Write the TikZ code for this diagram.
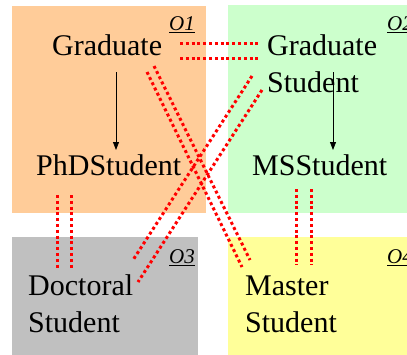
\documentclass[tikz,border=0pt]{standalone}
\usepackage{fontspec}
\setmainfont{Liberation Serif}
\usetikzlibrary{calc,arrows.meta}
\definecolor{peach}{RGB}{255,204,153}
\definecolor{mint}{RGB}{204,255,204}
\definecolor{greybox}{RGB}{192,192,192}
\definecolor{lemon}{RGB}{255,255,153}
\newcommand{\ulab}[1]{\leavevmode\vtop{\hbox{#1}\kern1.6pt\hrule height 1.3pt}}
\tikzset{
  big/.style={inner sep=0pt, anchor=base west, align=left, font=\fontsize{30}{37}\selectfont},
  olabel/.style={inner sep=0pt, anchor=base west, font=\fontsize{21}{24}\selectfont\itshape},
  reddots/.style={draw=red, line width=3pt, dash pattern=on 3pt off 2.8pt},
  arr/.style={draw=black, line width=0.8pt, -{Triangle[length=8pt,width=6pt]}}
}
\begin{document}
\begin{tikzpicture}[x=1pt,y=-1pt]
\useasboundingbox (0,0) rectangle (407,354);
% boxes
\fill[peach] (12,6) rectangle (206,213);
\fill[mint] (228,5) rectangle (410,213);
\fill[greybox] (12,237) rectangle (198,358);
\fill[lemon] (228,237) rectangle (410,358);
% labels
\node[olabel] (o1) at (169,30) {\ulab{O1}};
\node[olabel] (o2) at (387,30) {\ulab{O2}};
\node[olabel] (o3) at (169,263) {\ulab{O3}};
\node[olabel] (o4) at (387,263) {\ulab{O4}};
% texts (base west = baseline of the last line)
\node[big] (g) at (52,55) {Graduate};
\node[big] (gs) at (267,92) {Graduate\\Student};
\node[big] (phd) at (36,175) {PhDStudent};
\node[big] (ms) at (252,175) {MSStudent};
\node[big] (ds) at (28,332) {Doctoral\\Student};
\node[big] (mst) at (245,332) {Master\\Student};
% arrows
\draw[arr] ($(g.base west)+(64,17)$) -- ($(phd.base west)+(80,-25)$);
\draw[arr] ($(gs.base west)+(66,-20)$) -- ($(ms.base west)+(81,-25)$);
% red double dotted links
\draw[reddots] ($(g.base west)+(128,-12)$) -- ($(gs.base west)+(-9,-49)$);
\draw[reddots] ($(g.base west)+(128,3)$) -- ($(gs.base west)+(-9,-34)$);
\draw[reddots] ($(phd.base west)+(21,20)$) -- ($(ds.base west)+(29,-62)$);
\draw[reddots] ($(phd.base west)+(35,20)$) -- ($(ds.base west)+(43,-62)$);
\draw[reddots] ($(ms.base west)+(44,14)$) -- ($(mst.base west)+(51,-67)$);
\draw[reddots] ($(ms.base west)+(59,14)$) -- ($(mst.base west)+(66,-67)$);
\draw[reddots] ($(g.base west)+(95,17)$) -- ($(mst.base west)+(-3,-65)$);
\draw[reddots] ($(g.base west)+(102,11)$) -- ($(mst.base west)+(5,-72)$);
\draw[reddots] ($(gs.base west)+(-15,-16)$) -- ($(ds.base west)+(105,-72)$);
\draw[reddots] ($(gs.base west)+(-5,-2)$) -- ($(ds.base west)+(110,-50)$);
\end{tikzpicture}
\end{document}
